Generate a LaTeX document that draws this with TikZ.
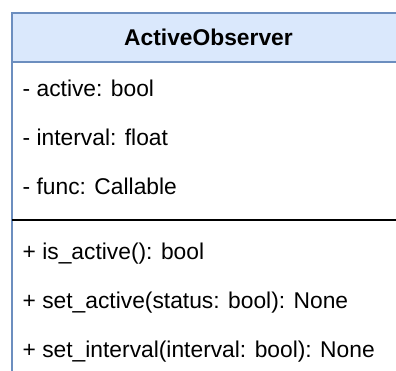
\documentclass[tikz,border=0pt]{standalone}
\usepackage{fontspec}
\setmainfont{Liberation Sans}
\definecolor{hdrfill}{HTML}{DAE8FC}
\definecolor{hdrline}{HTML}{6C8EBF}
\begin{document}
\begin{tikzpicture}[x=1pt,y=-1pt,
  member/.style={anchor=base west,inner sep=0pt,font=\fontsize{22.8}{27}\selectfont},
  title/.style={anchor=base,inner sep=0pt,font=\fontsize{22.8}{27}\selectfont\bfseries}]
\useasboundingbox (0,0) rectangle (396,370);
\clip (0,0) rectangle (396,370);
\fill[white] (0,0) rectangle (396,370);
\draw[hdrline,fill=white,line width=2pt] (12,13) rectangle (405,400);
\draw[hdrline,fill=hdrfill,line width=2pt] (12,13) rectangle (405,61.5);
\draw[black,line width=2.2pt] (12,220) -- (405,220);
\node[title] (t) at (208.5,45) {ActiveObserver};
\node[member] (a1) at (22.5,96) {- active: bool};
\node[member] (a2) at (22.5,145) {- interval: float};
\node[member] (a3) at (22.5,194) {- func: Callable};
\node[member] (m1) at (22.5,259) {+ is\_active(): bool};
\node[member] (m2) at (22.5,308) {+ set\_active(status: bool): None};
\node[member] (m3) at (22.5,357) {+ set\_interval(interval: bool): None};
\end{tikzpicture}
\end{document}
